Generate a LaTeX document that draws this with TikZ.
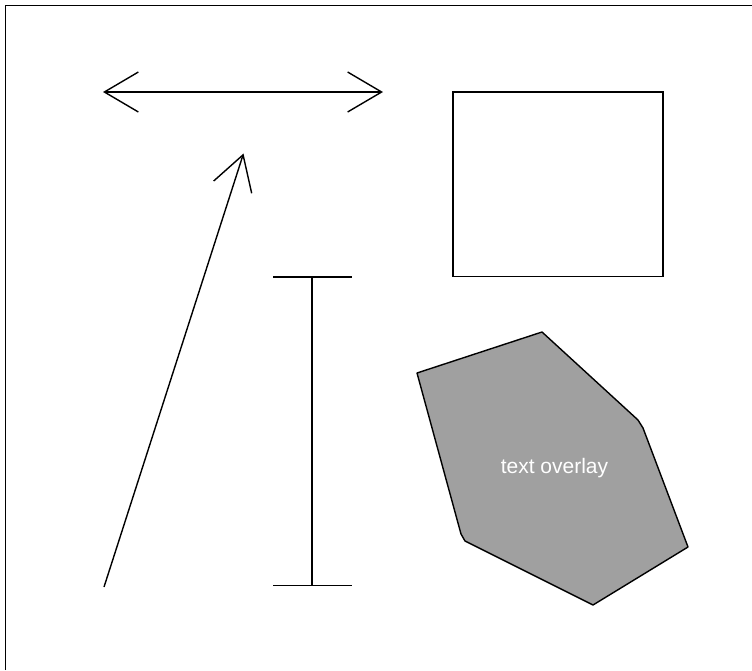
\documentclass[tikz,border=0pt]{standalone}
\usepackage{fontspec}
\setmainfont{Liberation Sans}
\usetikzlibrary{arrows.meta}
\definecolor{polyfill}{HTML}{A0A0A0}
\tikzset{
  shape line/.style={line width=1.4pt, draw=black},
  barb/.style={-{Straight Barb[length=34pt,width=40pt,line width=1.4pt]}},
  barbboth/.style={{Straight Barb[length=34pt,width=40pt,line width=1.4pt]}-{Straight Barb[length=34pt,width=40pt,line width=1.4pt]}},
  overlay text/.style={text=white, font=\fontsize{21}{24}\selectfont, inner sep=0pt, anchor=base}
}
\begin{document}
\begin{tikzpicture}[x=1pt,y=-1pt]
\useasboundingbox (0,0) rectangle (752,670);
\fill[white] (0,0) rectangle (752,670);
% frame (top and left edges)
\coordinate (fbl) at (5.5,670);
\coordinate (ftl) at (5.5,5.5);
\coordinate (ftr) at (752,5.5);
\draw[line width=1.6pt] (fbl) -- (ftl) -- (ftr);
% double arrow
\coordinate (dl) at (103,92);
\coordinate (dr) at (383,92);
\draw[shape line, barbboth] (dl) -- (dr);
% single arrow
\coordinate (sa) at (104,587);
\coordinate (sb) at (243.5,153.5);
\draw[shape line, barb] (sa) -- (sb);
% rectangle
\coordinate (r1) at (453,92);
\coordinate (r2) at (663,276.5);
\draw[shape line] (r1) rectangle (r2);
% I-beam
\coordinate (it) at (312,277);
\coordinate (ib) at (312,585.5);
\draw[shape line] (it) -- (ib);
\draw[shape line] (273,277) -- (352,277);
\draw[shape line] (273,585.5) -- (352,585.5);
% polygon
\draw[shape line, fill=polyfill, line join=round]
  (417,373) -- (542,332) -- (638,420) -- (643,428) -- (688,547)
  -- (593,605) -- (465,541) -- (461,534) -- cycle;
\node[overlay text] (txt) at (554.5,473) {text overlay};
\end{tikzpicture}
\end{document}
